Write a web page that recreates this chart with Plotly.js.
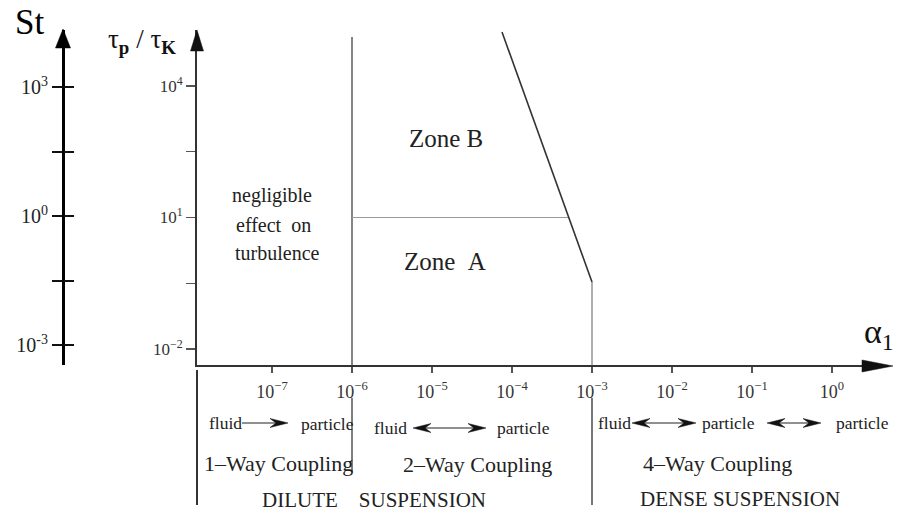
<!DOCTYPE html>
<html><head><meta charset="utf-8">
<script src="https://cdn.plot.ly/plotly-3.0.1.min.js"></script>
<style>html,body{margin:0;padding:0;background:#fff}#chart{width:897px;height:516px}</style>
</head><body><div id="chart"></div>
<script>
// ---- data ----
const alphaTickVals = [1e-7, 1e-6, 1e-5, 1e-4, 1e-3, 1e-2, 1e-1, 1e0];
const alphaTickText = ['10<sup>−7</sup>','10<sup>−6</sup>','10<sup>−5</sup>','10<sup>−4</sup>','10<sup>−3</sup>','10<sup>−2</sup>','10<sup>−1</sup>','10<sup>0</sup>'];
const tauTickVals = [1e-2, 0.316, 1e1, 316, 1e4];
const tauTickText = ['10<sup>−2</sup>', '', '10<sup>1</sup>', '', '10<sup>4</sup>'];
const stTickVals = [1e-3, 0.0316, 1, 31.6, 1e3];
const stTickText = ['10<sup>-3</sup>', '', '10<sup>0</sup>', '', '10<sup>3</sup>'];

// regime boundaries (alpha = volume fraction, tau = tau_p / tau_K)
const oneWayLimitAlpha = [1e-6, 1e-6];
const oneWayLimitTau   = [1.31e5, 4.3e-3];
const zoneSplitAlpha   = [1e-6, 5.0e-4];
const zoneSplitTau     = [10, 10];
const fourWayAlpha     = [7.5e-5, 1e-3];
const fourWayTau       = [1.7e5, 0.337];
const denseLimitAlpha  = [1e-3, 1e-3];
const denseLimitTau    = [0.337, 4.3e-3];
const dividerAlpha     = [1e-6, 1e-3];

// ---- layout helpers ----
const W = 897, H = 516, ML = 20, MR = 20, MT = 20, MB = 5;
const PW = W - ML - MR, PH = H - MT - MB;
const fx = px => (px - ML) / PW;
const fy = py => (H - MB - py) / PH;
const pt = (px, py) => fx(px).toFixed(5) + ',' + fy(py).toFixed(5);
const SERIF = 'Liberation Serif, Times New Roman, serif';

function label(text, px, py, size, color) {
  return {xref:'paper', yref:'paper', x:fx(px), y:fy(py), text:text, showarrow:false,
    xanchor:'center', yanchor:'middle', font:{family:SERIF, size:size, color:color || '#222'}};
}
function poly(points, color) {
  return {type:'path', xref:'paper', yref:'paper',
    path:'M' + points.map(p => pt(p[0], p[1])).join('L') + 'Z',
    fillcolor: color, line:{color: color, width: 0.5}, layer:'above'};
}
function seg(x0, y0, x1, y1, color, width) {
  return {type:'line', xref:'paper', yref:'paper', x0:fx(x0), y0:fy(y0), x1:fx(x1), y1:fy(y1),
    line:{color:color, width:width}, layer:'above'};
}
function headRight(tx, ty) { return poly([[tx,ty],[tx-18,ty-4.5],[tx-12,ty],[tx-18,ty+4.5]], '#111'); }
function headLeft(tx, ty)  { return poly([[tx,ty],[tx+18,ty-4.5],[tx+12,ty],[tx+18,ty+4.5]], '#111'); }
function arrow(x0, x1, y, both) {
  const out = [seg(both ? x0 + 10 : x0, y, x1 - 10, y, '#222', 1.2), headRight(x1, y)];
  if (both) out.push(headLeft(x0, y));
  return out;
}

const domX = [fx(197), fx(870)];
const domY = [fy(365), fy(30)];

const traces = [
  {x: oneWayLimitAlpha, y: oneWayLimitTau, mode:'lines', line:{color:'#444', width:1.3}},
  {x: zoneSplitAlpha, y: zoneSplitTau, mode:'lines', line:{color:'#9a9a9a', width:1.1}},
  {x: fourWayAlpha, y: fourWayTau, mode:'lines', line:{color:'#333', width:1.6}},
  {x: denseLimitAlpha, y: denseLimitTau, mode:'lines', line:{color:'#9a9a9a', width:1.6}},
  {x:[null], y:[null], yaxis:'y2', mode:'lines'},
  {x:[null], y:[null], yaxis:'y3', mode:'lines'}
].map(t => Object.assign({showlegend:false, hoverinfo:'skip', xaxis:'x'}, t));

const stAxisCommon = {type:'log', range:[-3.466, 4.337], overlaying:'y', anchor:'free', position:fx(63),
  side:'left', showgrid:false, zeroline:false, fixedrange:true};

const shapes = [
  // axis arrowheads
  poly([[63,29],[55.5,48],[70.5,48]], '#000'),
  poly([[197,30],[190.5,51],[203.5,51]], '#111'),
  poly([[893,366],[862,360],[862,372]], '#111'),
  // dividers below the axis
  {type:'line', xref:'x domain', yref:'paper', x0:0, x1:0, y0:fy(370), y1:fy(505), line:{color:'#333', width:2}},
  {type:'line', xref:'x', yref:'paper', x0:dividerAlpha[0], x1:dividerAlpha[0], y0:fy(398), y1:fy(472), line:{color:'#555', width:1.5}},
  {type:'line', xref:'x', yref:'paper', x0:dividerAlpha[1], x1:dividerAlpha[1], y0:fy(398), y1:fy(505), line:{color:'#777', width:2}}
].concat(arrow(242, 288, 423, false))
 .concat(arrow(413, 486, 428, true))
 .concat(arrow(632, 696, 423, true))
 .concat(arrow(767, 821, 423, true));

const annotations = [
  label('St', 29, 23, 35, '#000'),
  label('τ<sub><b>p</b></sub> / τ<sub><b>K</b></sub>', 142, 41, 27, '#111'),
  label('α<sub>1</sub>', 879, 334, 34, '#111'),
  label('negligible', 272, 195, 20),
  label('effect\u00a0\u00a0on', 273, 225, 20),
  label('turbulence', 277, 253, 20),
  label('Zone B', 446, 138, 25),
  label('Zone\u00a0\u00a0A', 445, 261, 25),
  label('fluid', 225, 423, 17.5),
  label('particle', 327, 424, 17.5),
  label('fluid', 390, 428, 17.5),
  label('particle', 523, 428, 17.5),
  label('fluid', 614, 423, 17.5),
  label('particle', 728, 423, 17.5),
  label('particle', 862, 423, 17.5),
  label('1–Way Coupling', 278, 463, 22),
  label('2–Way Coupling', 477, 464, 22),
  label('4–Way Coupling', 717, 463, 22),
  label('DILUTE\u00a0\u00a0\u00a0\u00a0SUSPENSION', 374, 500, 21),
  label('DENSE SUSPENSION', 740, 499, 21)
];

const layout = {
  width: W, height: H,
  margin: {l:ML, r:MR, t:MT, b:MB, pad:0},
  paper_bgcolor:'#fff', plot_bgcolor:'#fff',
  font: {family: SERIF, color:'#222'},
  showlegend: false,
  xaxis: {type:'log', range:[-7.9375, 0.475], domain:domX, anchor:'y',
    showline:true, linecolor:'#333', linewidth:2, mirror:false,
    ticks:'outside', ticklen:6, tickwidth:1.5, tickcolor:'#555', ticklabelstandoff:3,
    tickvals:alphaTickVals, ticktext:alphaTickText, tickfont:{size:18, color:'#333', family:SERIF},
    showgrid:false, zeroline:false, fixedrange:true},
  yaxis: {type:'log', range:[-2.3655, 5.2776], domain:domY, anchor:'x',
    showline:true, linecolor:'#333', linewidth:2,
    ticks:'outside', ticklen:9, tickwidth:1.2, tickcolor:'#555',
    tickvals:tauTickVals, ticktext:tauTickText, tickfont:{size:17, color:'#333', family:SERIF},
    showgrid:false, zeroline:false, fixedrange:true},
  yaxis2: Object.assign({}, stAxisCommon, {showline:true, linecolor:'#000', linewidth:2.5,
    ticks:'outside', ticklen:10, tickwidth:2, tickcolor:'#111',
    tickvals:stTickVals, ticktext:stTickText, tickfont:{size:20, color:'#222', family:SERIF}}),
  yaxis3: Object.assign({}, stAxisCommon, {showline:false, showticklabels:false,
    ticks:'inside', ticklen:10, tickwidth:2, tickcolor:'#111', tickvals:stTickVals}),
  shapes: shapes,
  annotations: annotations
};

Plotly.newPlot('chart', traces, layout, {staticPlot:true, displayModeBar:false});
</script></body></html>
